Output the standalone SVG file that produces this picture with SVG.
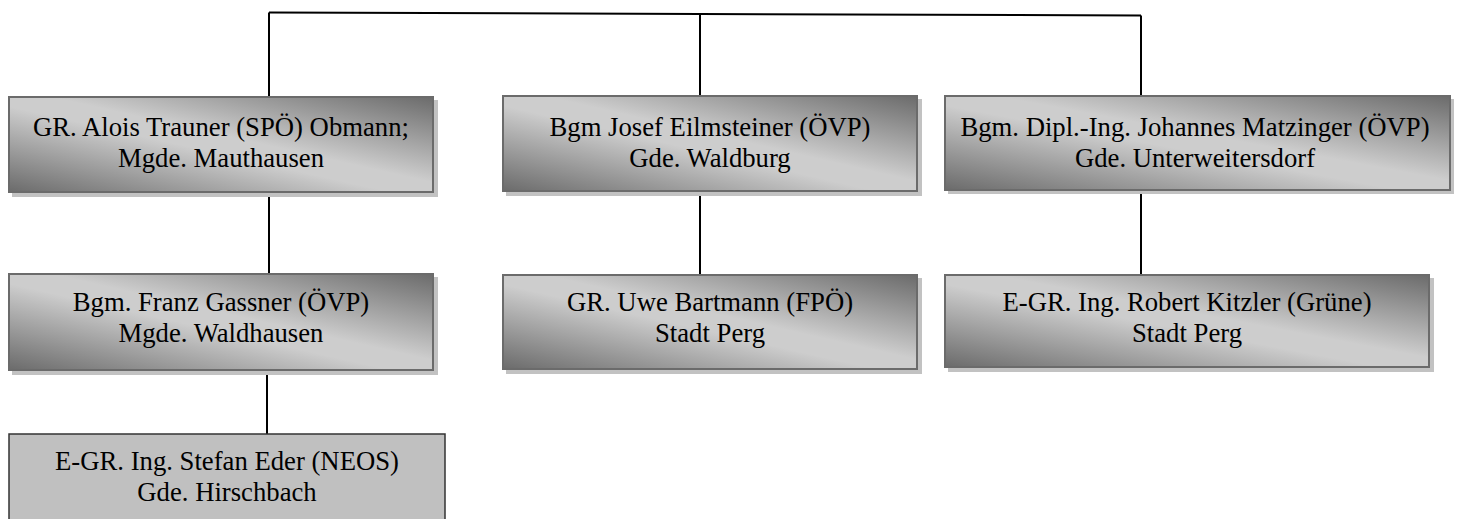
<svg xmlns="http://www.w3.org/2000/svg" width="1458" height="519" viewBox="0 0 1458 519">
<defs>
<linearGradient id="g" x1="0" y1="1" x2="1" y2="0">
<stop offset="0" stop-color="#6b6b6b"/>
<stop offset="0.45" stop-color="#cdcdcd"/>
<stop offset="0.55" stop-color="#cdcdcd"/>
<stop offset="1" stop-color="#6b6b6b"/>
</linearGradient>
<style>
.sh{fill:#c2c2c2}
.bx{fill:url(#g);stroke:#6b6b6b;stroke-width:2}
.flat{fill:#c0c0c0;stroke:#333;stroke-width:1.5}
.t{font-family:"Liberation Serif","Times New Roman",serif;font-size:26.7px;fill:#000;text-anchor:middle}
.c{stroke:#000;stroke-width:2;fill:none}
</style>
</defs>
<rect width="1458" height="519" fill="#fff"/>
<g id="connectors">
<path class="c" d="M269 12.5 L1141 15.5"/>
<path class="c" d="M269 12.5 V96"/>
<path class="c" d="M700 14 V95"/>
<path class="c" d="M1141 15.5 V95"/>
<path class="c" d="M269 193 V273"/>
<path class="c" d="M700 192 V274"/>
<path class="c" d="M1141 191 V274"/>
<path class="c" d="M267 371 V434"/>
</g>
<g id="n1">
<rect class="sh" x="12" y="100" width="426" height="97"/>
<rect class="bx" x="9" y="97" width="424" height="95"/>
<text class="t" x="221" y="136">GR. Alois Trauner (SPÖ) Obmann;</text>
<text class="t" x="221" y="167">Mgde. Mauthausen</text>
</g>
<g id="n2">
<rect class="sh" x="506" y="99" width="416" height="97"/>
<rect class="bx" x="503" y="96" width="414" height="95"/>
<text class="t" x="710" y="136">Bgm Josef Eilmsteiner (ÖVP)</text>
<text class="t" x="710" y="167">Gde. Waldburg</text>
</g>
<g id="n3">
<rect class="sh" x="948" y="99" width="506" height="95"/>
<rect class="bx" x="945" y="96" width="505" height="94"/>
<text class="t" x="1195" y="136">Bgm. Dipl.-Ing. Johannes Matzinger (ÖVP)</text>
<text class="t" x="1195" y="167">Gde. Unterweitersdorf</text>
</g>
<g id="n4">
<rect class="sh" x="12" y="277" width="426" height="98"/>
<rect class="bx" x="9" y="274" width="424" height="96"/>
<text class="t" x="221" y="311">Bgm. Franz Gassner (ÖVP)</text>
<text class="t" x="221" y="342">Mgde. Waldhausen</text>
</g>
<g id="n5">
<rect class="sh" x="506" y="278" width="416" height="96"/>
<rect class="bx" x="503" y="275" width="414" height="94"/>
<text class="t" x="710" y="311">GR. Uwe Bartmann (FPÖ)</text>
<text class="t" x="710" y="342">Stadt Perg</text>
</g>
<g id="n6">
<rect class="sh" x="948" y="278" width="486" height="94"/>
<rect class="bx" x="945" y="275" width="484" height="92"/>
<text class="t" x="1187" y="311">E-GR. Ing. Robert Kitzler (Grüne)</text>
<text class="t" x="1187" y="342">Stadt Perg</text>
</g>
<g id="n7">
<rect class="flat" x="9" y="434" width="436" height="100"/>
<text class="t" x="227" y="470">E-GR. Ing. Stefan Eder (NEOS)</text>
<text class="t" x="227" y="501">Gde. Hirschbach</text>
</g>
</svg>
